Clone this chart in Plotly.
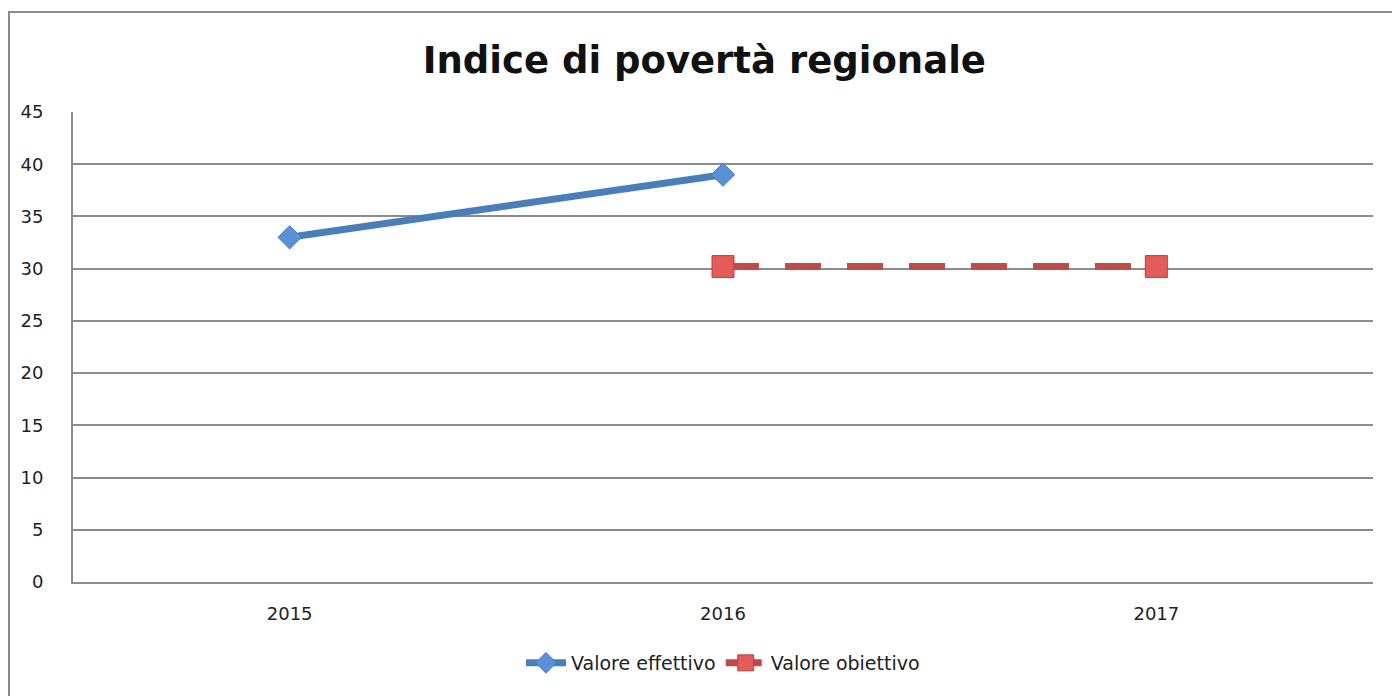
import plotly.graph_objects as go

years = ["2015", "2016", "2017"]
effettivo = [33, 39, None]
obiettivo = [None, 30.2, 30.2]
y_ticks = [0, 5, 10, 15, 20, 25, 30, 35, 40, 45]

W, H = 1392, 696
L, R, T, B = 73, 19, 112, 114
pw, ph = W - L - R, H - T - B

FONT = "DejaVu Sans, sans-serif"

fig = go.Figure()
fig.add_trace(go.Scatter(
    x=years, y=effettivo, name="Valore effettivo", mode="lines+markers",
    line=dict(color="#4a7ebb", width=7),
    marker=dict(symbol="diamond", size=18, color="#5b8fd6", line=dict(color="#4a7ebb", width=1)),
    connectgaps=False,
))
fig.add_trace(go.Scatter(
    x=years, y=obiettivo, name="Valore obiettivo", mode="lines+markers",
    line=dict(color="#be4b48", width=7, dash="36px,26px"),
    marker=dict(symbol="square", size=22, color="#e35b5b", line=dict(color="#b8403d", width=1)),
))

fig.update_layout(
    width=W, height=H,
    margin=dict(l=L, r=R, t=T, b=B),
    paper_bgcolor="white", plot_bgcolor="white",
    font=dict(family=FONT, size=18, color="#222"),
    title=dict(text="<b>Indice di povertà regionale</b>", x=0.506, xanchor="center",
               y=1 - 60 / H, yanchor="middle",
               font=dict(size=37, family=FONT, color="#111")),
    showlegend=True,
    legend=dict(orientation="h", x=0.5, xanchor="center", y=-(663 - 582) / ph, yanchor="middle",
                font=dict(size=19), itemwidth=40, tracegroupgap=0),
    xaxis=dict(type="category", range=[-0.5, 2.5], showgrid=False, showline=True,
               linecolor="#8c8c8c", linewidth=2, ticks="", tickfont=dict(size=18),
               ticklabelstandoff=14, zeroline=False),
    yaxis=dict(range=[0, 45], tickvals=y_ticks, showgrid=True, gridcolor="#8c8c8c", gridwidth=1.5,
               showline=True, linecolor="#8c8c8c", linewidth=2, ticks="", zeroline=False,
               tickfont=dict(size=18), ticklabelstandoff=24),
)

fig.add_shape(type="rect", xref="paper", yref="paper",
              x0=(9 - L) / pw, x1=(W + 5 - L) / pw,
              y0=-(H + 5 - T - ph) / ph, y1=1 + (T - 12) / ph,
              line=dict(color="#8c8c8c", width=2), fillcolor="rgba(0,0,0,0)", layer="below")

fig.write_html("out.html")
